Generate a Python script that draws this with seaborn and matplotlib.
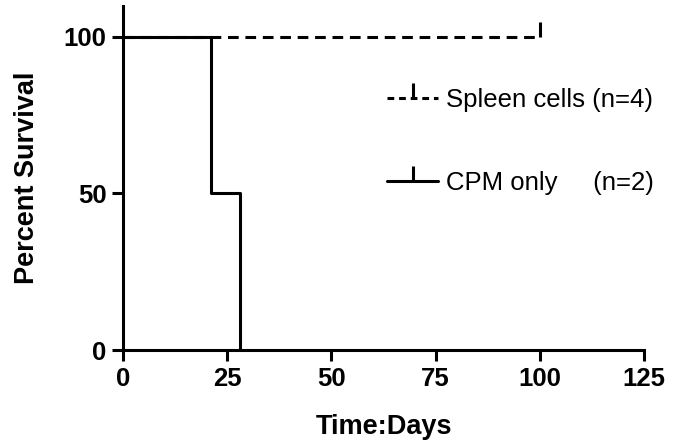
import matplotlib
matplotlib.use("Agg")
import matplotlib.pyplot as plt
import seaborn as sns
import pandas as pd
from matplotlib.lines import Line2D

# Data (Kaplan-Meier steps)
spleen_days = [0, 100]
spleen_surv = [100, 100]
spleen_censor_days = [100]
spleen_censor_surv = [100]

cpm_days = [0, 21, 28]
cpm_surv = [100, 50, 0]

series_labels = ["Spleen cells (n=4)", "CPM only     (n=2)"]
x_ticks = [0, 25, 50, 75, 100, 125]
y_ticks = [0, 50, 100]

sns.set_style("ticks")
plt.rcParams['font.family'] = ['Liberation Sans', 'DejaVu Sans']
plt.rcParams['text.color'] = 'black'
plt.rcParams['axes.labelcolor'] = 'black'
plt.rcParams['xtick.color'] = 'black'
plt.rcParams['ytick.color'] = 'black'

fig = plt.figure(figsize=(6.75, 4.47), dpi=100)
W, H = 675, 447
ax = fig.add_axes([123 / W, 1 - 350 / H, (644 - 123) / W, (350 - 5.7) / H])

lw = 2.2
df_sp = pd.DataFrame({"day": spleen_days, "surv": spleen_surv})
df_cpm = pd.DataFrame({"day": cpm_days, "surv": cpm_surv})

sns.lineplot(data=df_sp, x="day", y="surv", ax=ax, color="black", lw=lw,
             drawstyle="steps-post", estimator=None, sort=False,
             dashes=False, linestyle=(0, (3.5, 2.2)), zorder=2)
ax.plot(spleen_censor_days, spleen_censor_surv, ls="none", marker=2,
        ms=11, mew=lw, color="black", zorder=3)
sns.lineplot(data=df_cpm, x="day", y="surv", ax=ax, color="black", lw=lw,
             drawstyle="steps-post", estimator=None, sort=False, zorder=4)

ax.set_xlim(0, 125)
ax.set_ylim(0, 110)
ax.set_xticks(x_ticks)
ax.set_yticks(y_ticks)
ax.set_xticklabels([str(t) for t in x_ticks], fontsize=18.5, fontweight="bold")
ax.set_yticklabels([str(t) for t in y_ticks], fontsize=18.5, fontweight="bold")
ax.tick_params(axis="both", direction="out", length=8, width=lw, color="black", pad=4)
for s in ["top", "right"]:
    ax.spines[s].set_visible(False)
for s in ["left", "bottom"]:
    ax.spines[s].set_linewidth(lw)
    ax.spines[s].set_color("black")

ax.set_xlabel("Time:Days", fontsize=19.5, fontweight="bold", labelpad=17)
ax.set_ylabel("Percent Survival", fontsize=19.5, fontweight="bold", labelpad=17)

handles = [
    Line2D([0], [0], color="black", lw=lw, linestyle=(0, (2.2, 1.6)), marker=2, ms=11, mew=lw),
    Line2D([0], [0], color="black", lw=lw, marker=2, ms=11, mew=lw),
]
leg = ax.legend(handles, series_labels, loc="upper left",
                bbox_to_anchor=(387 / W, 1 - 88 / H), bbox_transform=fig.transFigure,
                frameon=False, fontsize=18.5, handlelength=2.0, handletextpad=0.3,
                labelspacing=2.3, borderpad=0, borderaxespad=0)

fig.savefig("out.png", dpi=100)
